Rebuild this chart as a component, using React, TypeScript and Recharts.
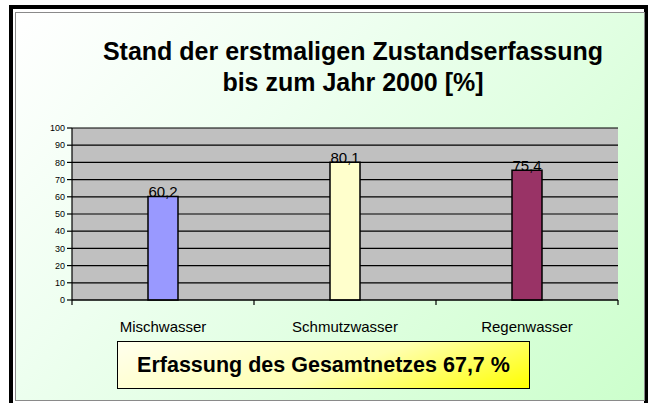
import React from "react";
import { BarChart, Bar, XAxis, YAxis, CartesianGrid, LabelList, Cell } from "recharts";

const CATEGORIES = ["Mischwasser", "Schmutzwasser", "Regenwasser"];
const VALUES = [60.2, 80.1, 75.4];
const BAR_COLORS = ["#9999ff", "#ffffcc", "#993366"];
const Y_TICKS = [0, 10, 20, 30, 40, 50, 60, 70, 80, 90, 100];
const TITLE_LINES = ["Stand der erstmaligen Zustandserfassung", "bis zum Jahr 2000 [%]"];
const SUMMARY = "Erfassung des Gesamtnetzes 67,7 %";

const FONT = "'Liberation Sans', Arial, sans-serif";

const data = CATEGORIES.map((name, i) => ({ name, value: VALUES[i] }));

const fmt = (v: number) => String(v).replace(".", ",");

// category label + tick marks at the band edges (like the old Excel look)
function CategoryTick(props: any) {
  const { x, y, payload, index, visibleTicksCount, width } = props;
  const half = payload?.offset ?? (width && visibleTicksCount ? width / visibleTicksCount / 2 : 91);
  const last = index === (visibleTicksCount ?? CATEGORIES.length) - 1;
  return (
    <g>
      <line x1={x - half} y1={y} x2={x - half} y2={y + 5} stroke="#000" strokeWidth={1.2} />
      {last && <line x1={x + half} y1={y} x2={x + half} y2={y + 5} stroke="#000" strokeWidth={1.2} />}
      <text x={x} y={y + 32} textAnchor="middle" fontSize={15} fontFamily={FONT} fill="#000">
        {payload.value}
      </text>
    </g>
  );
}

export default function App() {
  return (
    <div style={{ position: "absolute", left: 0, top: 0, width: 649, height: 403, overflow: "hidden", background: "#fff" }}>
      {/* outer black frame */}
      <div
        style={{
          position: "absolute",
          left: 9,
          top: 5,
          width: 639,
          height: 402,
          border: "4px solid #000",
          boxSizing: "border-box",
          background: "#fff",
        }}
      />
      {/* inner panel with gradient */}
      <div
        style={{
          position: "absolute",
          left: 15,
          top: 12,
          width: 630,
          height: 389,
          border: "1px solid #8a8a8a",
          boxSizing: "border-box",
          background: "linear-gradient(135deg, #ffffff 0%, #eefff0 35%, #ccffcc 100%)",
        }}
      />

      <svg width={649} height={403} style={{ position: "absolute", left: 0, top: 0 }}>
        <text x={353} y={60} textAnchor="middle" fontSize={25} fontWeight="bold" fontFamily={FONT} fill="#000">
          {TITLE_LINES[0]}
        </text>
        <text x={353} y={91} textAnchor="middle" fontSize={25} fontWeight="bold" fontFamily={FONT} fill="#000">
          {TITLE_LINES[1]}
        </text>
      </svg>

      <div style={{ position: "absolute", left: 0, top: 0 }}>
        <BarChart width={649} height={403} data={data} margin={{ top: 128, right: 31, bottom: 73, left: 32 }} barSize={30}>
          <CartesianGrid vertical={false} stroke="#000" strokeWidth={1.2} fill="#c0c0c0" fillOpacity={1} />
          <XAxis
            dataKey="name"
            height={30}
            tickLine={false}
            tickSize={0}
            tickMargin={0}
            axisLine={{ stroke: "#000", strokeWidth: 1.2 }}
            tick={<CategoryTick />}
            interval={0}
          />
          <YAxis
            width={40}
            domain={[0, 100]}
            ticks={Y_TICKS}
            interval={0}
            tickSize={5}
            tickMargin={2}
            axisLine={{ stroke: "#000", strokeWidth: 1.2 }}
            tickLine={{ stroke: "#000", strokeWidth: 1.2 }}
            tick={{ fontSize: 9, fill: "#000", fontFamily: FONT }}
          />
          <Bar dataKey="value" stroke="#000" strokeWidth={1.5} isAnimationActive={false}>
            {data.map((d, i) => (
              <Cell key={d.name} fill={BAR_COLORS[i]} />
            ))}
            <LabelList
              dataKey="value"
              position="top"
              offset={-1}
              formatter={(v: any) => fmt(Number(v))}
              style={{ fontSize: 15, fill: "#000", fontFamily: FONT }}
            />
          </Bar>
        </BarChart>
      </div>

      {/* summary box */}
      <div
        style={{
          position: "absolute",
          left: 117,
          top: 341,
          width: 413,
          height: 48,
          boxSizing: "border-box",
          border: "1.5px solid #000",
          background: "linear-gradient(160deg, #ffffee 0%, #ffffb0 55%, #ffff00 100%)",
          display: "flex",
          alignItems: "center",
          justifyContent: "center",
          fontFamily: FONT,
          fontWeight: "bold",
          fontSize: 21.5,
          color: "#000",
        }}
      >
        {SUMMARY}
      </div>
    </div>
  );
}
